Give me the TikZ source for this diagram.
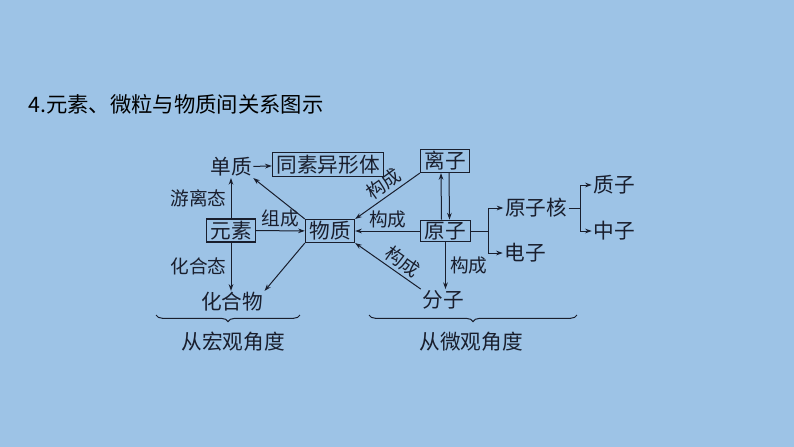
\documentclass[tikz,border=0pt]{standalone}
\usepackage{fontspec}
\setmainfont{Noto Sans CJK SC}
\usetikzlibrary{arrows.meta,decorations.pathreplacing}
\definecolor{bgblue}{RGB}{157,195,230}
\definecolor{ink}{RGB}{25,30,45}

\begin{document}
\begin{tikzpicture}[x=7.5pt,y=-7.5pt,
  every node/.style={text=ink},
  box/.style={draw=ink,line width=0.8pt,inner xsep=3pt,inner ysep=1.5pt,font=\fontsize{15.5}{18}\selectfont},
  word/.style={inner sep=1pt,font=\fontsize{15.5}{18}\selectfont},
  tag/.style={inner sep=1pt,font=\fontsize{14}{16}\selectfont},
  wire/.style={draw=ink,line width=0.75pt},
  link/.style={wire,-{Stealth[length=5pt,width=3.5pt]}}]
\fill[bgblue] (0,0) rectangle (79.4,44.7);
\node[anchor=west,inner sep=0pt,text=black,font=\fontsize{16}{19}\selectfont] (title) at (2.8,10.4) {4.元素、微粒与物质间关系图示};

\node[word] (dz) at (23.1,16.7) {单质};
\node[box] (txy) at (32.8,16.45) {同素异形体};
\node[box] (lz) at (44.5,16.1) {离子};
\node[box] (ys) at (23.1,23.05) {元素};
\node[box] (wz) at (33.0,23.1) {物质};
\node[box] (yz) at (44.55,23.1) {原子};
\node[word] (hhw) at (23.2,30.2) {化合物};
\node[word] (fz) at (44.3,30.0) {分子};
\node[word] (yzh) at (53.6,20.8) {原子核};
\node[word] (dzz) at (52.5,25.3) {电子};
\node[word] (zz) at (61.4,18.5) {质子};
\node[word] (zhz) at (61.4,23.1) {中子};
\node[word] (hg) at (23.3,34.2) {从宏观角度};
\node[word] (wg) at (47.1,34.2) {从微观角度};

\path[link] (ys.north) -- node[tag,left=2pt] {游离态} (ys.north |- dz.south);
\path[link] (ys.south) -- node[tag,left=2pt] {化合态} (ys.south |- hhw.north);
\path[link] (ys) -- node[tag,above=1pt] {组成} (wz);
\path[link] (wz.north west) -- (dz.south east);
\path[link] (wz.south west) -- (hhw.north east);
\path[link] (dz) -- (txy);

\path[link] (lz.south west) -- node[tag,sloped,above=1.5pt,pos=0.45] {构成} (wz.north east);
\path[link] (yz) -- node[tag,above=1pt] {构成} (wz);
\path[link] (fz.north west) -- node[tag,sloped,above=1.5pt,pos=0.38] {构成} (wz.south east);
\path[link] ([xshift=-3pt]yz.north) -- ([xshift=-3pt]lz.south);
\path[link] ([xshift=3pt]lz.south) -- ([xshift=3pt]yz.north);
\path[link] (yz.south) -- node[tag,right=2pt] {构成} (yz.south |- fz.north);

% atom structure
\coordinate (fork1) at (48.8,23.1);
\coordinate (fork2) at (58.0,20.8);
\path[wire] (yz.east) -- (fork1);
\path[link] (fork1) |- (yzh.west);
\path[link] (fork1) |- (dzz.west);
\path[wire] (yzh.east) -- (fork2);
\path[link] (fork2) |- (zz.west);
\path[link] (fork2) |- (zhz.west);

% braces
\coordinate (lb1) at (15.6,31.5);
\coordinate (lb2) at (30.0,31.5);
\coordinate (rb1) at (36.9,31.5);
\coordinate (rb2) at (57.7,31.5);
\path[wire,decorate,decoration={brace,mirror,amplitude=5pt}] (lb1) -- (lb2);
\path[wire,decorate,decoration={brace,mirror,amplitude=5pt}] (rb1) -- (rb2);
\end{tikzpicture}
\end{document}
